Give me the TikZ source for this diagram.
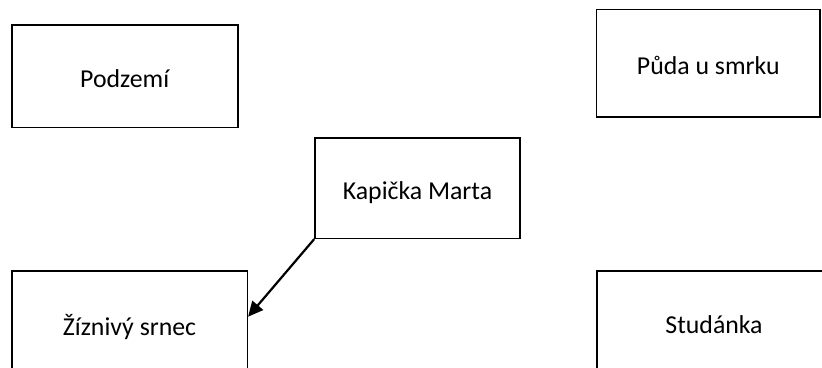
\documentclass[tikz,border=0pt]{standalone}
\usepackage{fontspec}
\setmainfont{Carlito}
\usetikzlibrary{arrows.meta}
\tikzset{
  box/.style={draw=black, line width=1.6pt, rectangle, inner sep=0pt,
    font=\fontsize{25.8pt}{30pt}\selectfont, text height=22pt, text depth=0pt},
  link/.style={draw=black, line width=2.2pt, -{Triangle[length=15pt,width=14pt]}}
}
\begin{document}
\begin{tikzpicture}[x=1pt,y=-1pt]
\clip (0,0) rectangle (822,367);
\fill[white] (0,0) rectangle (822,367);
\node[box, minimum width=226pt, minimum height=102.7pt] (pod) at (124.7,76.3) {Podzemí};
\node[box, minimum width=223.3pt, minimum height=107.4pt] (puda) at (708.3,63) {Půda u smrku};
\node[box, minimum width=205pt, minimum height=100.6pt] (kap) at (417.5,188) {Kapička Marta};
\node[box, minimum width=235.6pt, minimum height=107pt] (srn) at (129.5,324.2) {Žíznivý srnec};
\node[box, minimum width=234.6pt, minimum height=103pt] (stu) at (714,322.2) {Studánka};
\draw[link] (kap.south west) -- ([yshift=7.5pt]srn.east);
\end{tikzpicture}
\end{document}
